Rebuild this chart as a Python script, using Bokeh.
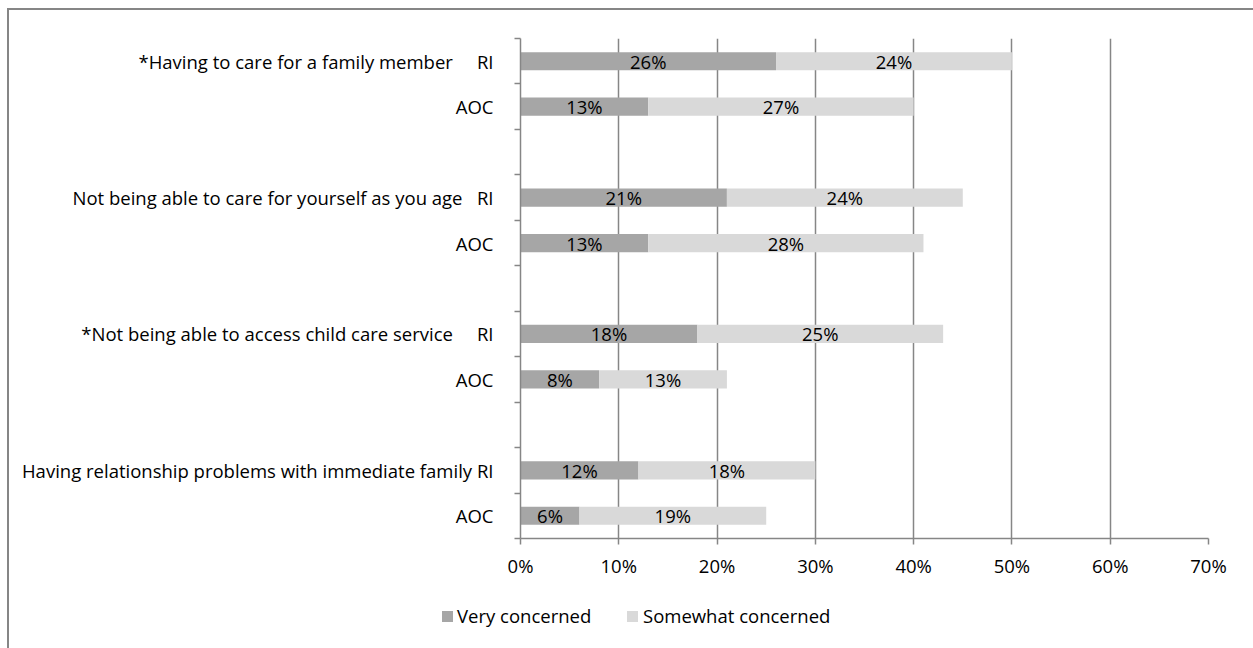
from bokeh.plotting import figure
from bokeh.layouts import column
from bokeh.models import (ColumnDataSource, FixedTicker, NumeralTickFormatter, Range1d, Div)
from bokeh.core.properties import value
from bokeh.embed import file_html
from bokeh.resources import INLINE

categories = ["*Having to care for a family member",
              "Not being able to care for yourself as you age",
              "*Not being able to access child care service",
              "Having relationship problems with immediate family"]
groups = ["RI", "AOC"]
series = ["Very concerned", "Somewhat concerned"]
very_ri = [26, 21, 18, 12]
very_aoc = [13, 13, 8, 6]
some_ri = [24, 24, 25, 18]
some_aoc = [27, 28, 13, 19]
x_ticks = [0, 10, 20, 30, 40, 50, 60, 70]

FONT = "Open Sans"
FS = "18.5px"
NB = "\u00a0"
gaps = [5, 3, 5, 1]
colors = ["#A6A6A6", "#D9D9D9"]
grey = "#868686"

ys, very, some, labels = [], [], [], {}
for i, cat in enumerate(categories):
    base = i * 3
    y_ri, y_aoc = base + 0.5, base + 1.5
    ys += [y_ri, y_aoc]
    very += [very_ri[i] / 100, very_aoc[i] / 100]
    some += [some_ri[i] / 100, some_aoc[i] / 100]
    labels[y_ri] = cat + NB * gaps[i] + groups[0]
    labels[y_aoc] = groups[1]

n_slots = 3 * len(categories) - 1
src = ColumnDataSource(dict(
    y=ys,
    v0=[0] * len(ys),
    v1=very,
    v2=[a + b for a, b in zip(very, some)],
    vmid=[a / 2 for a in very],
    smid=[a + b / 2 for a, b in zip(very, some)],
    vtxt=[f"{round(a * 100)}%" for a in very],
    stxt=[f"{round(b * 100)}%" for b in some],
))

p = figure(width=1244, height=573, output_backend="svg", toolbar_location=None,
           x_range=Range1d(0, x_ticks[-1] / 100), y_range=Range1d(n_slots, 0),
           min_border_left=511, min_border_right=45, min_border_top=28,
           min_border_bottom=45)
p.outline_line_color = None

p.hbar(y="y", left="v0", right="v1", height=0.4, source=src,
       fill_color=colors[0], line_color=None)
p.hbar(y="y", left="v1", right="v2", height=0.4, source=src,
       fill_color=colors[1], line_color=None)

p.text(x="vmid", y="y", text="vtxt", source=src, text_align="center",
       text_baseline="middle", text_font=value(FONT), text_font_size=FS,
       text_color="#000000")
p.text(x="smid", y="y", text="stxt", source=src, text_align="center",
       text_baseline="middle", text_font=value(FONT), text_font_size=FS,
       text_color="#000000")

# x axis
p.xaxis.ticker = FixedTicker(ticks=[t / 100 for t in x_ticks])
p.xaxis.formatter = NumeralTickFormatter(format="0%")
p.xaxis.axis_line_color = grey
p.xaxis.axis_line_width = 1.5
p.xaxis.major_tick_line_color = grey
p.xaxis.major_tick_line_width = 1.5
p.xaxis.major_tick_out = 6
p.xaxis.major_tick_in = 0
p.xaxis.minor_tick_line_color = None
p.xaxis.major_label_standoff = 8
p.xaxis.major_label_text_font = FONT
p.xaxis.major_label_text_font_size = FS
p.xaxis.major_label_text_color = "#000000"

# y axis
p.yaxis.ticker = FixedTicker(ticks=ys, minor_ticks=list(range(n_slots + 1)))
p.yaxis.major_label_overrides = labels
p.yaxis.axis_line_color = grey
p.yaxis.axis_line_width = 1.5
p.yaxis.major_tick_line_color = None
p.yaxis.major_tick_out = 0
p.yaxis.major_tick_in = 0
p.yaxis.minor_tick_line_color = grey
p.yaxis.minor_tick_line_width = 1.5
p.yaxis.minor_tick_out = 6
p.yaxis.minor_tick_in = 0
p.yaxis.major_label_standoff = 21
p.yaxis.major_label_text_font = FONT
p.yaxis.major_label_text_font_size = FS
p.yaxis.major_label_text_color = "#000000"

p.xgrid.grid_line_color = grey
p.xgrid.grid_line_width = 1.5
p.ygrid.grid_line_color = None

# legend strip below the chart
sq_left = [433, 618]
txt_left = [448, 634]
parts = []
for name, col, sl, tl in zip(series, colors, sq_left, txt_left):
    parts.append(
        f'<span style="position:absolute;left:{sl}px;top:28px;width:11px;height:11px;'
        f'background:{col};"></span>'
        f'<span style="position:absolute;left:{tl}px;top:20px;line-height:26px;'
        f"font-family:'{FONT}';font-size:{FS};color:#000;white-space:nowrap;\">{name}</span>")
legend_html = ('<div style="position:relative;width:1244px;height:65px;">'
               + "".join(parts) + "</div>")
leg = Div(text=legend_html, width=1244, height=65, margin=0)

page = column(p, leg, spacing=0)
page.styles = {"margin-left": "7px", "margin-top": "8px",
               "border-left": f"2px solid {grey}", "border-top": f"2px solid {grey}"}

open("out.html", "w").write(file_html(page, INLINE))
